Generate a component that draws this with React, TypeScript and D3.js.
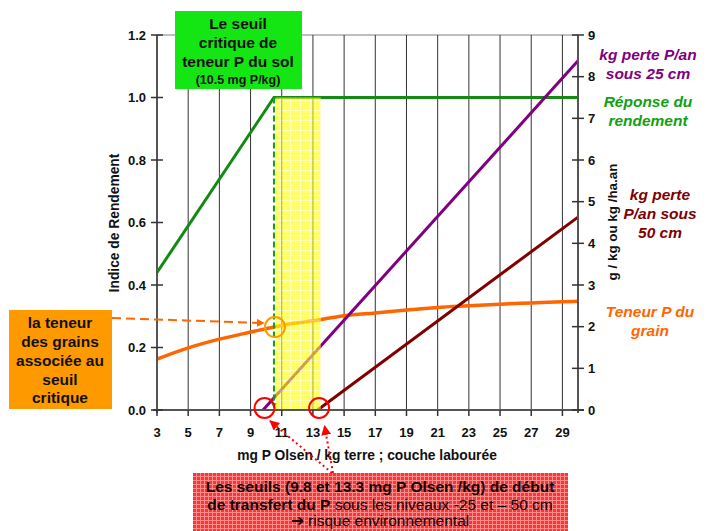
import React from "react";
import * as d3 from "d3";

const xTicks = [3, 5, 7, 9, 11, 13, 15, 17, 19, 21, 23, 25, 27, 29];
const leftTicks = [0, 0.2, 0.4, 0.6, 0.8, 1.0, 1.2];
const rightTicks = [0, 1, 2, 3, 4, 5, 6, 7, 8, 9];

// Réponse du rendement (left axis)
const yieldX = [3, 10.5, 30];
const yieldIndex = [0.44, 1.0, 1.0];

// Teneur P du grain (right axis, g/kg)
const grainX = [3, 5, 7, 9, 11, 13, 15, 17, 19, 21, 23, 25, 27, 29, 30];
const grainP = [1.22, 1.49, 1.7, 1.87, 2.03, 2.14, 2.26, 2.33, 2.4, 2.46, 2.5, 2.54, 2.57, 2.6, 2.61];

// kg perte P/an sous 25 cm (right axis)
const loss25X = [9.8, 30];
const loss25 = [0, 8.38];

// kg perte P/an sous 50 cm (right axis)
const loss50X = [13.3, 30];
const loss50 = [0, 4.63];

const criticalP = 10.5;
const thresholds = [9.8, 13.3];
const band = [10.6, 13.5];

const FONT = "'Liberation Sans', Arial, Helvetica, sans-serif";

export default function App() {
  const W = 713, H = 531;
  const x = d3.scaleLinear().domain([3, 30]).range([157, 578]);
  const yL = d3.scaleLinear().domain([0, 1.2]).range([410, 35]);
  const yR = d3.scaleLinear().domain([0, 9]).range([410, 35]);

  const lineL = d3.line<[number, number]>().x(d => x(d[0])).y(d => yL(d[1]));
  const lineR = d3.line<[number, number]>().x(d => x(d[0])).y(d => yR(d[1]));
  const curveR = d3.line<[number, number]>().x(d => x(d[0])).y(d => yR(d[1])).curve(d3.curveMonotoneX);

  const yieldPts = yieldX.map((v, i) => [v, yieldIndex[i]] as [number, number]);
  const grainPts = grainX.map((v, i) => [v, grainP[i]] as [number, number]);
  const l25Pts = loss25X.map((v, i) => [v, loss25[i]] as [number, number]);
  const l50Pts = loss50X.map((v, i) => [v, loss50[i]] as [number, number]);

  const grainAtCrit = d3.scaleLinear().domain(grainX).range(grainP)(criticalP);
  const cx0 = x(criticalP);
  const cy0 = yR(grainAtCrit);

  const x0 = x(3), x1 = x(30), y0 = yL(0), yTop = yL(1.2);

  return (
    <svg width={W} height={H} style={{ position: "absolute", left: 0, top: 0, background: "#fff" }} fontFamily={FONT}>
      <defs>
        <pattern id="yel" width="5" height="5" patternUnits="userSpaceOnUse">
          <rect width="5" height="5" fill="#ffff00" />
          <path d="M0 0.5H5M0.5 0V5" stroke="#ffff90" strokeWidth="1" />
        </pattern>
        <pattern id="redp" width="4" height="4" patternUnits="userSpaceOnUse">
          <rect width="4" height="4" fill="#f23838" />
          <path d="M0 0.5H4M0.5 0V4" stroke="#ff8a8a" strokeWidth="1" />
        </pattern>
        <marker id="arrO" viewBox="0 0 10 10" refX="9" refY="5" markerWidth="4" markerHeight="4" orient="auto">
          <path d="M0 0L10 5L0 10z" fill="#ff6600" />
        </marker>
        <marker id="arrR" viewBox="0 0 10 10" refX="9" refY="5" markerWidth="5" markerHeight="5" orient="auto">
          <path d="M0 0L10 5L0 10z" fill="#ff0000" />
        </marker>
        <marker id="arrG" viewBox="0 0 10 10" refX="9" refY="5" markerWidth="3" markerHeight="3" orient="auto">
          <path d="M0 0L10 5L0 10z" fill="#11a011" />
        </marker>
      </defs>

      {/* plot frame top */}
      <line x1={x0} x2={x1} y1={yTop} y2={yTop} stroke="#aaa" strokeWidth={1.5} />
      {/* vertical gridlines */}
      {xTicks.slice(1).map(t => (
        <line key={"g" + t} x1={x(t)} x2={x(t)} y1={yTop} y2={y0} stroke="#333" strokeWidth={1} />
      ))}

      {/* series */}
      <path d={lineL(yieldPts) || ""} fill="none" stroke="#138a13" strokeWidth={3} />
      <path d={curveR(grainPts) || ""} fill="none" stroke="#ff6600" strokeWidth={3.5} />
      <path d={lineR(l25Pts) || ""} fill="none" stroke="#800080" strokeWidth={3} />
      <path d={lineR(l50Pts) || ""} fill="none" stroke="#800000" strokeWidth={3} />

      {/* green dashed critical line */}
      <line x1={cx0} x2={cx0} y1={yL(1.0)} y2={y0 - 2} stroke="#11a011" strokeWidth={2} strokeDasharray="6 3" markerEnd="url(#arrG)" />

      {/* yellow band */}
      <rect x={x(band[0])} y={yL(1.0)} width={x(band[1]) - x(band[0])} height={y0 - yL(1.0)} fill="url(#yel)" opacity={0.62} />

      {/* axes */}
      <line x1={x0} x2={x0} y1={yTop} y2={y0 + 3} stroke="#555" strokeWidth={2} />
      <line x1={x1} x2={x1} y1={yTop} y2={y0 + 3} stroke="#555" strokeWidth={2} />
      <line x1={x0 - 4} x2={x1 + 6} y1={y0} y2={y0} stroke="#555" strokeWidth={2} />
      {leftTicks.map(t => (
        <g key={"l" + t}>
          <line x1={x0 - 6} x2={x0 + 6} y1={yL(t)} y2={yL(t)} stroke="#333" strokeWidth={1.5} />
          <text x={146} y={yL(t)} dy="0.35em" textAnchor="end" fontSize={13} fontWeight="bold" fill="#111">{t.toFixed(1)}</text>
        </g>
      ))}
      {rightTicks.map(t => (
        <g key={"r" + t}>
          <line x1={x1 - 6} x2={x1 + 6} y1={yR(t)} y2={yR(t)} stroke="#333" strokeWidth={1.5} />
          <text x={588} y={yR(t)} dy="0.35em" textAnchor="start" fontSize={13} fontWeight="bold" fill="#111">{t}</text>
        </g>
      ))}
      {xTicks.map(t => (
        <g key={"x" + t}>
          <line x1={x(t)} x2={x(t)} y1={y0} y2={y0 + 6} stroke="#333" strokeWidth={1.5} />
          <text x={x(t)} y={432} dy="0.35em" textAnchor="middle" fontSize={13} fontWeight="bold" fill="#111">{t}</text>
        </g>
      ))}

      {/* axis titles */}
      <text x={367} y={455} dy="0.35em" textAnchor="middle" fontSize={13.8} fontWeight="bold" fill="#111">mg P Olsen / kg terre ; couche labourée</text>
      <text transform={`translate(114,223) rotate(-90)`} dy="0.35em" textAnchor="middle" fontSize={13.8} fontWeight="bold" fill="#111">Indice de Rendement</text>
      <text transform={`translate(612,222) rotate(-90)`} dy="0.35em" textAnchor="middle" fontSize={13.4} fontWeight="bold" fill="#111">g / kg ou kg /ha.an</text>

      {/* circles */}
      <circle cx={cx0 + 1} cy={cy0} r={10} fill="none" stroke="#ff9900" strokeWidth={2} />
      {thresholds.map(t => (
        <circle key={"c" + t} cx={x(t) + 1.5} cy={y0 - 2} r={10} fill="none" stroke="#ff0000" strokeWidth={2} />
      ))}

      {/* orange dashed arrow */}
      <line x1={112} y1={318} x2={cx0 - 10} y2={cy0 - 4} stroke="#ff6600" strokeWidth={2} strokeDasharray="9 5" markerEnd="url(#arrO)" />

      {/* red dotted arrows */}
      <line x1={332} y1={473} x2={x(thresholds[0]) + 7} y2={y0 + 11} stroke="#ff0000" strokeWidth={2} strokeDasharray="2 3" markerEnd="url(#arrR)" />
      <line x1={333} y1={473} x2={x(thresholds[1]) + 7} y2={y0 + 16} stroke="#ff0000" strokeWidth={2} strokeDasharray="2 3" markerEnd="url(#arrR)" />

      {/* right-side labels */}
      <g fontSize={15.5} fontWeight="bold" fontStyle="italic" textAnchor="middle">
        <text x={648} y={55} dy="0.35em" fill="#800080">kg perte P/an</text>
        <text x={648} y={74} dy="0.35em" fill="#800080">sous 25 cm</text>
        <text x={648} y={102} dy="0.35em" fill="#12a012">Réponse du</text>
        <text x={648} y={121} dy="0.35em" fill="#12a012">rendement</text>
        <text x={660} y={195} dy="0.35em" fill="#800000">kg perte</text>
        <text x={660} y={214} dy="0.35em" fill="#800000">P/an sous</text>
        <text x={660} y={233} dy="0.35em" fill="#800000">50 cm</text>
        <text x={650} y={312} dy="0.35em" fill="#ff6600">Teneur P du</text>
        <text x={650} y={331} dy="0.35em" fill="#ff6600">grain</text>
      </g>

      {/* green box */}
      <rect x={175} y={11} width={127} height={78} fill="#14e614" />
      <g textAnchor="middle" fontWeight="bold" fill="#111">
        <text x={238} y={24} dy="0.35em" fontSize={15.5}>Le seuil</text>
        <text x={238} y={43} dy="0.35em" fontSize={15.5}>critique de</text>
        <text x={238} y={62} dy="0.35em" fontSize={15.5}>teneur P du sol</text>
        <text x={238} y={80} dy="0.35em" fontSize={12.5}>(10.5 mg P/kg)</text>
      </g>

      {/* orange box */}
      <rect x={9} y={310} width={103} height={99} fill="#ff9900" />
      <g textAnchor="middle" fontWeight="bold" fill="#111" fontSize={15.5}>
        <text x={60} y={323} dy="0.35em">la teneur</text>
        <text x={60} y={342} dy="0.35em">des grains</text>
        <text x={60} y={361} dy="0.35em">associée au</text>
        <text x={60} y={380} dy="0.35em">seuil</text>
        <text x={60} y={398} dy="0.35em">critique</text>
      </g>

      {/* red box */}
      <rect x={193} y={473} width={375} height={60} fill="url(#redp)" />
      <g textAnchor="middle" fill="#1a0000" fontSize={15.5}>
        <text x={380} y={487} dy="0.35em" fontWeight="bold">Les seuils (9.8 et 13.3 mg P Olsen /kg) de début</text>
        <text x={380} y={505} dy="0.35em"><tspan fontWeight="bold">de transfert du P</tspan> sous les niveaux -25 et – 50 cm</text>
        <text x={380} y={521} dy="0.35em">➔ risque environnemental</text>
      </g>
    </svg>
  );
}
